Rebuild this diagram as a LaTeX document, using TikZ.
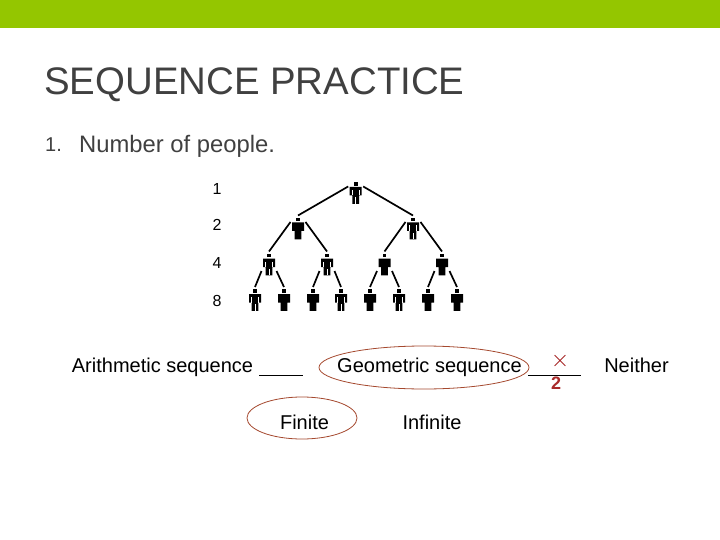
\documentclass[tikz,border=0pt]{standalone}
\usepackage{fontspec}
\setmainfont{Liberation Sans}
\usetikzlibrary{shapes.geometric,shapes.misc}
\definecolor{barGreen}{HTML}{94C600}
\definecolor{titleGray}{HTML}{404040}
\definecolor{ringBrown}{HTML}{A5492F}
\definecolor{markRed}{HTML}{A82A2A}
\newcommand{\personbody}{%
  \fill[black] (-1.8,7.4) rectangle (1.8,10.8);
  \fill[black] (-6,6) -- (6,6) -- (6,-2.5) -- (3.4,-2.5) -- (3.4,-10.8) -- (-3.4,-10.8) -- (-3.4,-2.5) -- (-6,-2.5) -- cycle;
}
\tikzset{
  person/.style={minimum width=15pt,minimum height=26pt,inner sep=0pt,outer sep=0pt,
    path picture={\begin{scope}[x=1pt,y=1pt,shift={(path picture bounding box.center)}]
      \personbody
      \fill[white] (-3.8,3) rectangle (-3.1,-2.5);
      \fill[white] (3.1,3) rectangle (3.8,-2.5);
      \fill[white] (-0.3,-4) rectangle (0.3,-10.8);
    \end{scope}}},
  personsolid/.style={minimum width=15pt,minimum height=26pt,inner sep=0pt,outer sep=0pt,
    path picture={\begin{scope}[x=1pt,y=1pt,shift={(path picture bounding box.center)}]
      \personbody
    \end{scope}}},
  branch/.style={line width=1.7pt,black},
  rowlabel/.style={font=\fontsize{16}{16}\selectfont},
  choice/.style={font=\fontsize{20}{20}\selectfont,anchor=base},
  ring/.style={draw=ringBrown,line width=0.8pt,ellipse,inner sep=0pt},
  blank/.style={line width=1.8pt,black}
}
\begin{document}
\begin{tikzpicture}[x=1pt,y=-1pt]
\useasboundingbox (0,0) rectangle (720,540);
% top bar and heading
\fill[barGreen] (0,0) rectangle (720,28);
\node[font=\fontsize{38.4}{38.4}\selectfont,text=titleGray,anchor=base west,inner sep=0pt] (title) at (44,95) {SEQUENCE PRACTICE};
\node[font=\fontsize{20}{20}\selectfont,text=titleGray,anchor=base west,inner sep=0pt] (num) at (45,152) {1.};
\node[font=\fontsize{23.8}{23.8}\selectfont,text=titleGray,anchor=base west,inner sep=0pt] (head) at (79,153) {Number of people.};
% row labels
\node[rowlabel] (lone) at (217,189) {1};
\node[rowlabel] (ltwo) at (217,225) {2};
\node[rowlabel] (lfour) at (217,263) {4};
\node[rowlabel] (leight) at (217,301) {8};
% people
\node[person] (pa) at (355.7,193) {};
\node[personsolid] (pb) at (298,228.5) {};
\node[person] (pc) at (413,228.5) {};
\node[person] (pd) at (269,264.5) {};
\node[person] (pe) at (327,264.5) {};
\node[personsolid] (pf) at (384.5,264.5) {};
\node[personsolid] (pg) at (442,264.5) {};
\node[person] (ph) at (255,300) {};
\node[personsolid] (pi) at (284,300) {};
\node[personsolid] (pj) at (313,300) {};
\node[person] (pk) at (341,300) {};
\node[personsolid] (pl) at (370,300) {};
\node[person] (pm) at (399,300) {};
\node[personsolid] (pn) at (428,300) {};
\node[personsolid] (po) at (457,300) {};
% branches
\draw[branch] (pa.139) -- (pb.north);
\draw[branch] (pa.41) -- (pc.north);
\draw[branch] (pb.139) -- (pd.north);
\draw[branch] (pb.41) -- (pe.north);
\draw[branch] (pc.139) -- (pf.north);
\draw[branch] (pc.41) -- (pg.north);
\draw[branch] (pd.221) -- (ph.north);
\draw[branch] (pd.-41) -- (pi.north);
\draw[branch] (pe.221) -- (pj.north);
\draw[branch] (pe.-41) -- (pk.north);
\draw[branch] (pf.221) -- (pl.north);
\draw[branch] (pf.-41) -- (pm.north);
\draw[branch] (pg.221) -- (pn.north);
\draw[branch] (pg.-41) -- (po.north);
% choices
\node[choice] (arith) at (162.5,372.5) {Arithmetic sequence};
\coordinate (aL) at (259,375.5);
\coordinate (aR) at (303,375.5);
\draw[blank] (aL) -- (aR);
\node[ring,minimum width=210pt,minimum height=43pt] (geoRing) at (424,367.5) {};
\node[choice] (geo) at (429.5,372.5) {Geometric sequence};
\coordinate (gL) at (528,375.5);
\coordinate (gR) at (581,375.5);
\draw[blank] (gL) -- (gR);
\node[draw=markRed,cross out,line width=0.8pt,minimum size=10pt,inner sep=0pt] (cross) at (560,360.5) {};
\node[font=\bfseries\fontsize{18}{18}\selectfont,text=markRed] (two) at (556,383) {2};
\node[choice] (neither) at (636.5,372.5) {Neither};
\node[ring,minimum width=110pt,minimum height=42pt] (finRing) at (302,418) {};
\node[choice] (finite) at (304.5,429.5) {Finite};
\node[choice] (infinite) at (432,429.5) {Infinite};
\end{tikzpicture}
\end{document}
